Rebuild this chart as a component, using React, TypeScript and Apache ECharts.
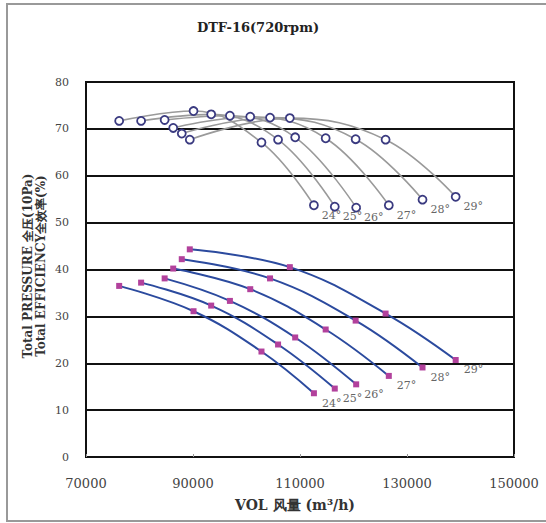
import React, { useEffect, useRef } from "react";
import * as echarts from "echarts";

const angles = ["24°", "25°", "26°", "27°", "28°", "29°"];

// air volume (m³/h) of the four operating points on each blade-angle curve
const vol24 = [76200, 90100, 102800, 112600];
const vol25 = [80300, 93400, 105900, 116500];
const vol26 = [84700, 96900, 109100, 120500];
const vol27 = [86300, 100700, 114800, 126600];
const vol28 = [87900, 104400, 120400, 132900];
const vol29 = [89400, 108100, 126000, 139100];

// total pressure (10Pa)
const pre24 = [36.5, 31.1, 22.5, 13.6];
const pre25 = [37.2, 32.3, 24.0, 14.6];
const pre26 = [38.1, 33.3, 25.5, 15.5];
const pre27 = [40.2, 35.8, 27.2, 17.3];
const pre28 = [42.2, 38.1, 29.1, 19.1];
const pre29 = [44.3, 40.5, 30.6, 20.7];

// total efficiency (%)
const eff24 = [71.7, 73.8, 67.1, 53.7];
const eff25 = [71.7, 73.1, 67.7, 53.4];
const eff26 = [71.9, 72.8, 68.2, 53.2];
const eff27 = [70.2, 72.6, 68.0, 53.7];
const eff28 = [69.0, 72.4, 67.8, 54.9];
const eff29 = [67.7, 72.3, 67.7, 55.5];

const yTicks = [0, 10, 20, 30, 40, 50, 60, 70, 80];
const xTicks = [70000, 90000, 110000, 130000, 150000];

const vols = [vol24, vol25, vol26, vol27, vol28, vol29];
const pres = [pre24, pre25, pre26, pre27, pre28, pre29];
const effs = [eff24, eff25, eff26, eff27, eff28, eff29];

const FONT = "'DejaVu Serif', 'Liberation Serif', serif";

function buildData(xs: number[], ys: number[], label: string, offset: number[]) {
  return xs.map((x, i) => {
    if (i === xs.length - 1) {
      return {
        value: [x, ys[i]],
        label: {
          show: true,
          formatter: label,
          position: "right",
          offset,
          color: "#666",
          fontFamily: FONT,
          fontSize: 11,
        },
      };
    }
    return { value: [x, ys[i]] };
  });
}

export default function App() {
  const ref = useRef<HTMLDivElement>(null);
  useEffect(() => {
    if (!ref.current) return;
    const chart = echarts.init(ref.current, undefined, { renderer: "svg" });
    const series: any[] = [];
    angles.forEach((a, k) => {
      series.push({
        type: "line",
        name: "eff " + a,
        smooth: 0.4,
        data: buildData(vols[k], effs[k], a, [-2, 10]),
        symbol: "circle",
        symbolSize: 8,
        lineStyle: { color: "#9a9a9a", width: 1.6 },
        itemStyle: { color: "#ffffff", borderColor: "#3a3a80", borderWidth: 1.8 },
        z: 3,
      });
    });
    angles.forEach((a, k) => {
      series.push({
        type: "line",
        name: "pre " + a,
        smooth: 0.4,
        data: buildData(vols[k], pres[k], a, [0, 10]),
        symbol: "rect",
        symbolSize: 6,
        lineStyle: { color: "#2b4a9e", width: 2 },
        itemStyle: { color: "#b2419c" },
        z: 3,
      });
    });
    chart.setOption({
      animation: false,
      backgroundColor: "#ffffff",
      title: {
        text: "DTF-16(720rpm)",
        left: 253,
        top: 16,
        textAlign: "center",
        textStyle: { fontFamily: FONT, fontSize: 13, fontWeight: "bold", color: "#222" },
      },
      grid: {
        left: 86,
        top: 82,
        right: 32,
        bottom: 66,
        show: true,
        borderColor: "#111",
        borderWidth: 2,
        backgroundColor: "transparent",
      },
      xAxis: {
        type: "value",
        min: xTicks[0],
        max: xTicks[xTicks.length - 1],
        interval: xTicks[1] - xTicks[0],
        axisLine: { show: true, lineStyle: { color: "#111", width: 2 } },
        axisTick: { show: true, inside: true, length: 3, lineStyle: { color: "#999" } },
        splitLine: { show: false },
        axisLabel: {
          color: "#444",
          fontFamily: FONT,
          fontSize: 13,
          margin: 20,
          formatter: (v: number) => String(v),
        },
      },
      yAxis: {
        type: "value",
        min: yTicks[0],
        max: yTicks[yTicks.length - 1],
        interval: yTicks[1] - yTicks[0],
        axisLine: { show: true, lineStyle: { color: "#111", width: 2 } },
        axisTick: { show: false },
        splitLine: { show: true, lineStyle: { color: "#111", width: 2 } },
        axisLabel: { color: "#444", fontFamily: FONT, fontSize: 11, margin: 17 },
      },
      graphic: [
        {
          type: "rect",
          shape: { x: 7, y: 4, width: 545, height: 517 },
          style: { fill: "none", stroke: "#999", lineWidth: 2 },
          silent: true,
        },
        {
          type: "text",
          x: 34,
          y: 266,
          rotation: Math.PI / 2,
          style: {
            text: "Total PRESSURE 全压(10Pa)\nTotal EFFICIENCY全效率(%)",
            textAlign: "center",
            textVerticalAlign: "middle",
            fontFamily: FONT,
            fontSize: 12,
            fontWeight: "bold",
            lineHeight: 13,
            fill: "#333",
          },
        },
        {
          type: "text",
          x: 295,
          y: 505,
          style: {
            text: "VOL 风量 (m³/h)",
            textAlign: "center",
            textVerticalAlign: "middle",
            fontFamily: FONT,
            fontSize: 14,
            fontWeight: "bold",
            fill: "#333",
          },
        },
      ],
      series,
    });
    return () => chart.dispose();
  }, []);
  return (
    <div
      ref={ref}
      style={{ position: "fixed", left: 0, top: 0, width: 546, height: 523, background: "#fff" }}
    />
  );
}
